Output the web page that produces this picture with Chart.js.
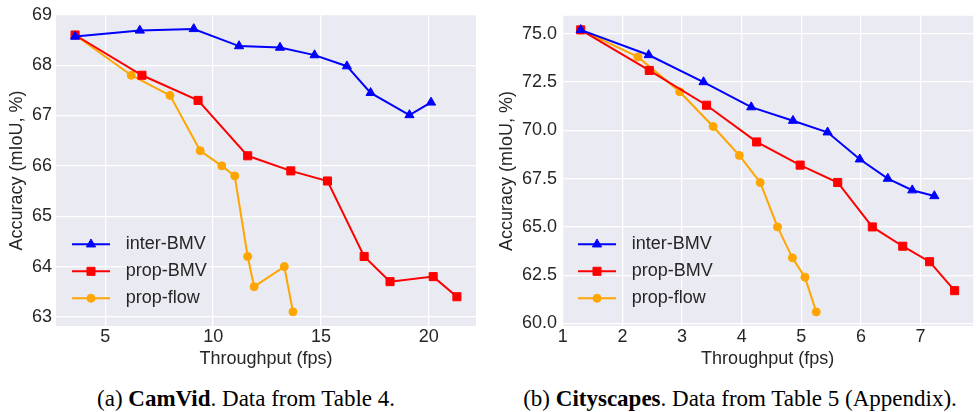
<!DOCTYPE html>
<html>
<head>
<meta charset="utf-8">
<script src="https://cdn.jsdelivr.net/npm/chart.js@4"></script>
<style>
  body { margin: 0; background: #fff; width: 980px; height: 412px; position: relative; overflow: hidden; }
  canvas { position: absolute; top: 0; }
  .cap { position: absolute; top: 387px; font: 23px "Liberation Serif", serif; line-height: 23px; color: #000; white-space: nowrap; transform: translateX(-50%); }
</style>
</head>
<body>
<canvas id="camvid" width="490" height="370" style="left:0"></canvas>
<canvas id="city" width="490" height="370" style="left:490px"></canvas>
<div class="cap" style="left:246px">(a) <b>CamVid</b>. Data from Table 4.</div>
<div class="cap" style="left:740px">(b) <b>Cityscapes</b>. Data from Table 5 (Appendix).</div>
<script>
const seriesNames = ["inter-BMV", "prop-BMV", "prop-flow"];

// CamVid (Table 4)
const camvidInterX = [3.6, 6.6, 9.1, 11.2, 13.1, 14.7, 16.2, 17.3, 19.1, 20.1];
const camvidInterY = [68.57, 68.69, 68.72, 68.38, 68.35, 68.2, 67.98, 67.45, 67.01, 67.26];
const camvidPropX = [3.6, 6.7, 9.3, 11.6, 13.6, 15.3, 17.0, 18.2, 20.2, 21.3];
const camvidPropY = [68.6, 67.8, 67.3, 66.2, 65.9, 65.7, 64.2, 63.7, 63.8, 63.4];
const camvidFlowX = [3.6, 6.2, 8.0, 9.4, 10.4, 11.0, 11.6, 11.9, 13.3, 13.7];
const camvidFlowY = [68.6, 67.8, 67.4, 66.3, 66.0, 65.8, 64.2, 63.6, 64.0, 63.1];
const camvidXTicks = [5, 10, 15, 20];
const camvidYTicks = [63, 64, 65, 66, 67, 68, 69];

// Cityscapes (Table 5)
const cityInterX = [1.3, 2.44, 3.36, 4.16, 4.86, 5.44, 5.98, 6.45, 6.86, 7.23];
const cityInterY = [75.2, 73.9, 72.5, 71.2, 70.5, 69.9, 68.5, 67.5, 66.9, 66.6];
const cityPropX = [1.3, 2.45, 3.41, 4.25, 4.98, 5.61, 6.19, 6.70, 7.15, 7.57];
const cityPropY = [75.2, 73.1, 71.3, 69.4, 68.2, 67.3, 65.0, 64.0, 63.2, 61.7];
const cityFlowX = [1.3, 2.26, 2.96, 3.52, 3.96, 4.31, 4.60, 4.85, 5.06, 5.25];
const cityFlowY = [75.2, 73.8, 72.0, 70.2, 68.7, 67.3, 65.0, 63.4, 62.4, 60.6];
const cityXTicks = [1, 2, 3, 4, 5, 6, 7];
const cityYTicks = [60, 62.5, 65, 67.5, 70, 72.5, 75];

const colors = ["#0000ff", "#ff0000", "#ffa500"];
const styles = [
  { pointStyle: "triangle", radius: 5.3 },
  { pointStyle: "rect", radius: 5.7 },
  { pointStyle: "circle", radius: 4 },
];
const textColor = "#262626";
const font = { family: "'Liberation Sans', Arial, sans-serif", size: 18 };

function pts(xs, ys) {
  return xs.map((x, i) => ({ x: x, y: ys[i] }));
}

function range(arrays) {
  const all = [].concat(...arrays);
  const lo = Math.min(...all), hi = Math.max(...all);
  const m = (hi - lo) * 0.05;
  return [lo - m, hi + m];
}

function datasets(xs, ys) {
  return xs.map((x, i) => ({
    label: seriesNames[i],
    data: pts(x, ys[i]),
    borderColor: colors[i],
    backgroundColor: colors[i],
    borderWidth: 2,
    pointStyle: styles[i].pointStyle,
    pointRadius: styles[i].radius,
    pointHoverRadius: styles[i].radius,
    pointBorderWidth: 1,
    tension: 0,
  }));
}

const bgPlugin = {
  id: "bg",
  beforeDraw(chart) {
    const a = chart.chartArea, ctx = chart.ctx;
    ctx.save();
    ctx.fillStyle = "#eaeaf2";
    ctx.fillRect(a.left, a.top, a.right - a.left, a.bottom - a.top);
    ctx.restore();
  },
};

// legend with a line through the marker, like matplotlib
const legendPlugin = {
  id: "lineLegend",
  afterDraw(chart) {
    const a = chart.chartArea, ctx = chart.ctx;
    ctx.save();
    chart.data.datasets.forEach((ds, i) => {
      const y = a.bottom - 81.7 + i * 27;
      const x0 = a.left + 16;
      ctx.strokeStyle = ds.borderColor;
      ctx.fillStyle = ds.backgroundColor;
      ctx.lineWidth = 2;
      ctx.beginPath();
      ctx.moveTo(x0, y);
      ctx.lineTo(x0 + 38, y);
      ctx.stroke();
      ctx.lineWidth = 1;
      Chart.helpers.drawPoint(ctx, { pointStyle: ds.pointStyle, radius: ds.pointRadius, rotation: 0, borderWidth: 1 }, x0 + 19, y);
      ctx.fillStyle = textColor;
      ctx.font = font.size + "px " + font.family;
      ctx.textBaseline = "middle";
      ctx.textAlign = "left";
      ctx.fillText(ds.label, x0 + 53.7, y);
    });
    ctx.restore();
  },
};

function makeChart(id, xs, ys, xTicks, yTicks, yWidth, padRight, yPad, yFmt) {
  const xr = range(xs), yr = range(ys);
  return new Chart(document.getElementById(id), {
    type: "line",
    data: { datasets: datasets(xs, ys) },
    options: {
      responsive: false,
      devicePixelRatio: 1,
      animation: false,
      events: [],
      layout: { padding: { top: 13, right: padRight, left: 0, bottom: 0 } },
      plugins: { legend: { display: false }, tooltip: { enabled: false } },
      scales: {
        x: {
          type: "linear",
          min: xr[0],
          max: xr[1],
          afterBuildTicks: (s) => { s.ticks = xTicks.map((v) => ({ value: v })); },
          afterFit: (s) => { s.height = 44; },
          grid: { color: "#ffffff", lineWidth: 1.3, drawTicks: false },
          border: { display: false },
          ticks: { color: textColor, font: font, padding: 0, autoSkip: false, maxRotation: 0 },
          title: { display: true, text: "Throughput (fps)", color: textColor, font: font, padding: { top: 0, bottom: 0 } },
        },
        y: {
          type: "linear",
          min: yr[0],
          max: yr[1],
          afterBuildTicks: (s) => { s.ticks = yTicks.map((v) => ({ value: v })); },
          afterFit: (s) => { s.width = yWidth; },
          grid: { color: "#ffffff", lineWidth: 1.3, drawTicks: false },
          border: { display: false },
          ticks: { color: textColor, font: font, padding: yPad, autoSkip: false, callback: yFmt },
          title: { display: true, text: "Accuracy (mIoU, %)", color: textColor, font: font, padding: { top: 6, bottom: 0 } },
        },
      },
    },
    plugins: [bgPlugin, legendPlugin],
  });
}

makeChart("camvid",
  [camvidInterX, camvidPropX, camvidFlowX],
  [camvidInterY, camvidPropY, camvidFlowY],
  camvidXTicks, camvidYTicks, 56, 14, 4, (v) => String(v));

makeChart("city",
  [cityInterX, cityPropX, cityFlowX],
  [cityInterY, cityPropY, cityFlowY],
  cityXTicks, cityYTicks, 72, 0, 5, (v) => v.toFixed(1));
</script>
</body>
</html>
